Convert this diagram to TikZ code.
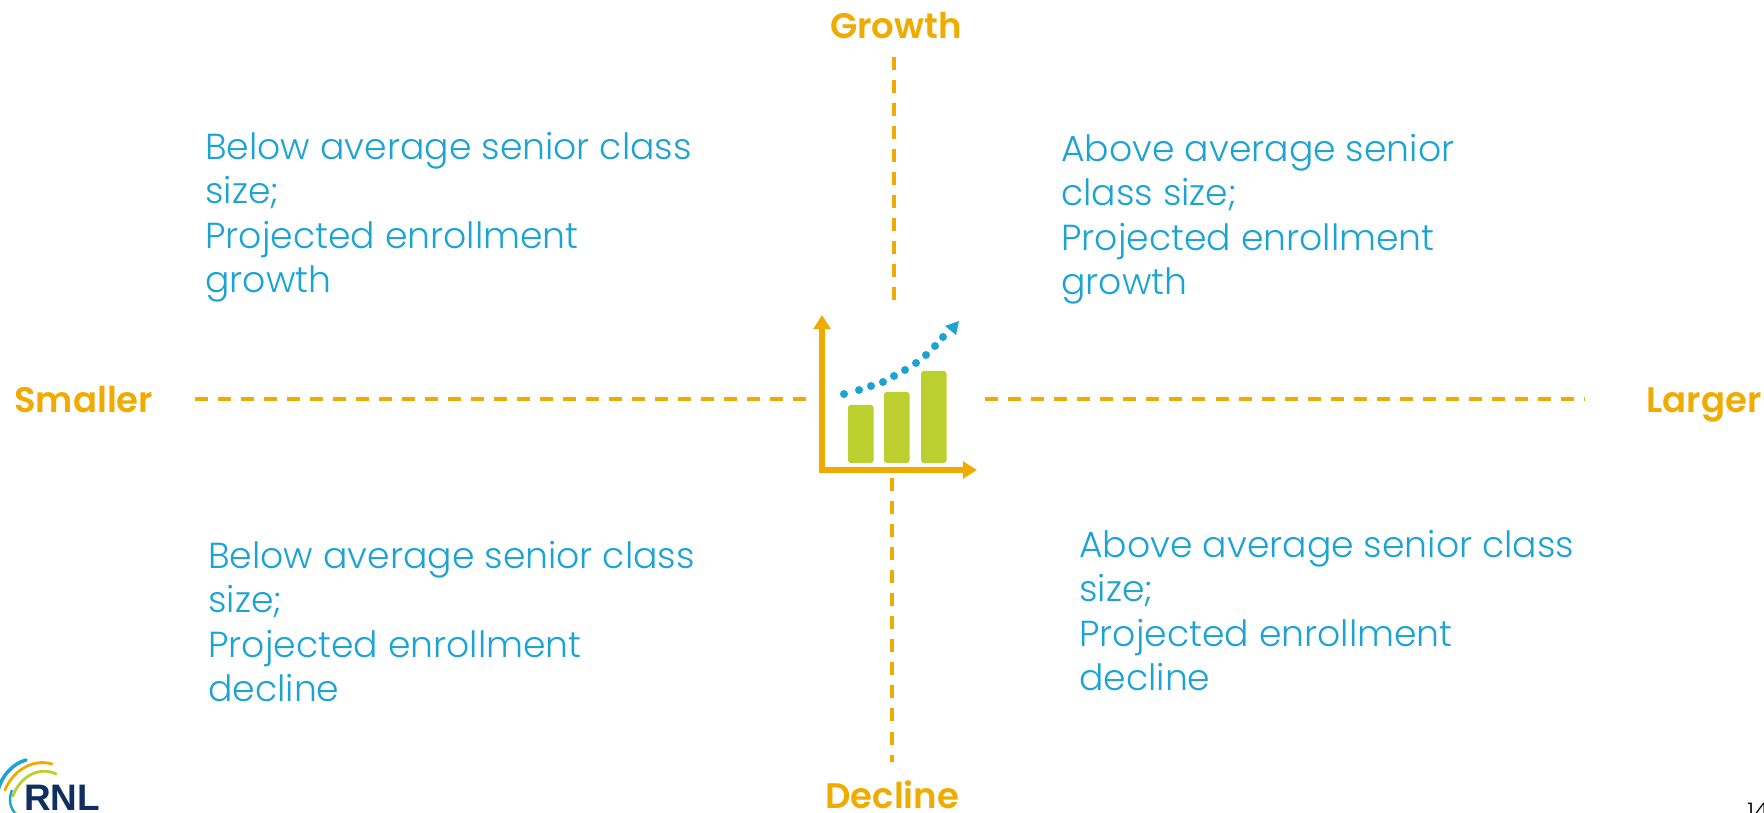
\documentclass[tikz,border=0pt]{standalone}
\usepackage{fontspec}
\setmainfont{Poppins Light}
\newfontfamily\boldfam{Poppins SemiBold}
\newfontfamily\logofam{Liberation Sans Bold}
\usetikzlibrary{arrows.meta,calc}
\definecolor{AxisClr}{HTML}{EFAB00}
\definecolor{TextClr}{HTML}{1BA3D3}
\definecolor{BarClr}{HTML}{BBD02F}
\definecolor{NavyClr}{HTML}{0F2F5F}
\tikzset{
  Quad/.style={anchor=north west,align=left,text=TextClr,inner sep=0pt,font=\fontsize{20.6}{25.2}\selectfont},
  Edge/.style={anchor=base west,text=AxisClr,inner sep=0pt,font=\boldfam\fontsize{20.2}{22}\selectfont},
  AxisLine/.style={draw=AxisClr,line width=2.2pt,dash pattern=on 7.4pt off 5.7pt},
  IconLine/.style={draw=AxisClr,line width=3.2pt},
  Bar/.style={fill=BarClr,rounded corners=1.5pt}
}

\begin{document}
\begin{tikzpicture}[x=0.02cm,y=-0.02cm]
\useasboundingbox (0,0) rectangle (1764,813);
\clip (0,0) rectangle (1764,813);

\node[Edge] (Growth) at (830,39) {Growth};
\node[Edge] (Decline) at (825,808) {Decline};
\node[Edge] (Smaller) at (14,413) {Smaller};
\node[Edge] (Larger) at (1646,413) {Larger};
\node[minimum width=3.5cm,minimum height=3.46cm,inner sep=0pt] (Chart) at (897.5,391.5) {};

\draw[AxisLine] (195,399) -- (Chart.west |- 0,399);
\draw[AxisLine] (Chart.east |- 0,399) -- (1585,399);
\draw[AxisLine] (894,57) -- (894,0 |- Chart.north);
\draw[AxisLine] (892,0 |- Chart.south) -- (892,762);

\node[Quad] (BelowGrowth) at (205,132) {Below average senior class\\size;\\Projected enrollment\\growth};
\node[Quad] (AboveGrowth) at (1061,134) {Above average senior\\class size;\\Projected enrollment\\growth};
\node[Quad] (BelowDecline) at (208,541) {Below average senior class\\size;\\Projected enrollment\\decline};
\node[Quad] (AboveDecline) at (1079,530) {Above average senior class\\size;\\Projected enrollment\\decline};

\foreach \x/\y in {848/405,884/392,921/371}
  \fill[Bar] (\x,\y) rectangle (\x+25.5,463);
\draw[IconLine,-{Triangle[length=8pt,width=9.5pt]}] (822,472.8) -- (822,315);
\draw[IconLine,-{Triangle[length=8pt,width=9.5pt]}] (819,470) -- (977,470);
\foreach \x/\y in {844/394,859/390,871/386,883/382,894/376,905/370,916/363,926/355,935/346,943/337}
  \fill[TextClr] (\x,\y) circle (4);
\fill[TextClr] (959,321) -- (945,326) -- (956,335) -- cycle;

% logo
\draw[TextClr,line width=2pt,line cap=round] (26,760) .. controls (12,764) and (2,776) .. (-2,790);
\draw[AxisClr,line width=1.6pt,line cap=round] (52,764) .. controls (32,758) and (12,772) .. (5,790);
\draw[BarClr,line width=1.6pt,line cap=round] (56,774) .. controls (40,766) and (20,776) .. (13,796);
\draw[TextClr,line width=1.4pt] (12,790) .. controls (9,798) and (9,806) .. (15,813);
\node[anchor=base west,text=NavyClr,inner sep=0pt,font=\logofam\fontsize{21}{24}\selectfont] (Logo) at (24,810) {RNL};
\fill[BarClr] (16,813) circle (1.5);

\node[anchor=base west,inner sep=0pt,font=\fontsize{13}{15}\selectfont] (PageNo) at (1747,819) {14};
\end{tikzpicture}
\end{document}
